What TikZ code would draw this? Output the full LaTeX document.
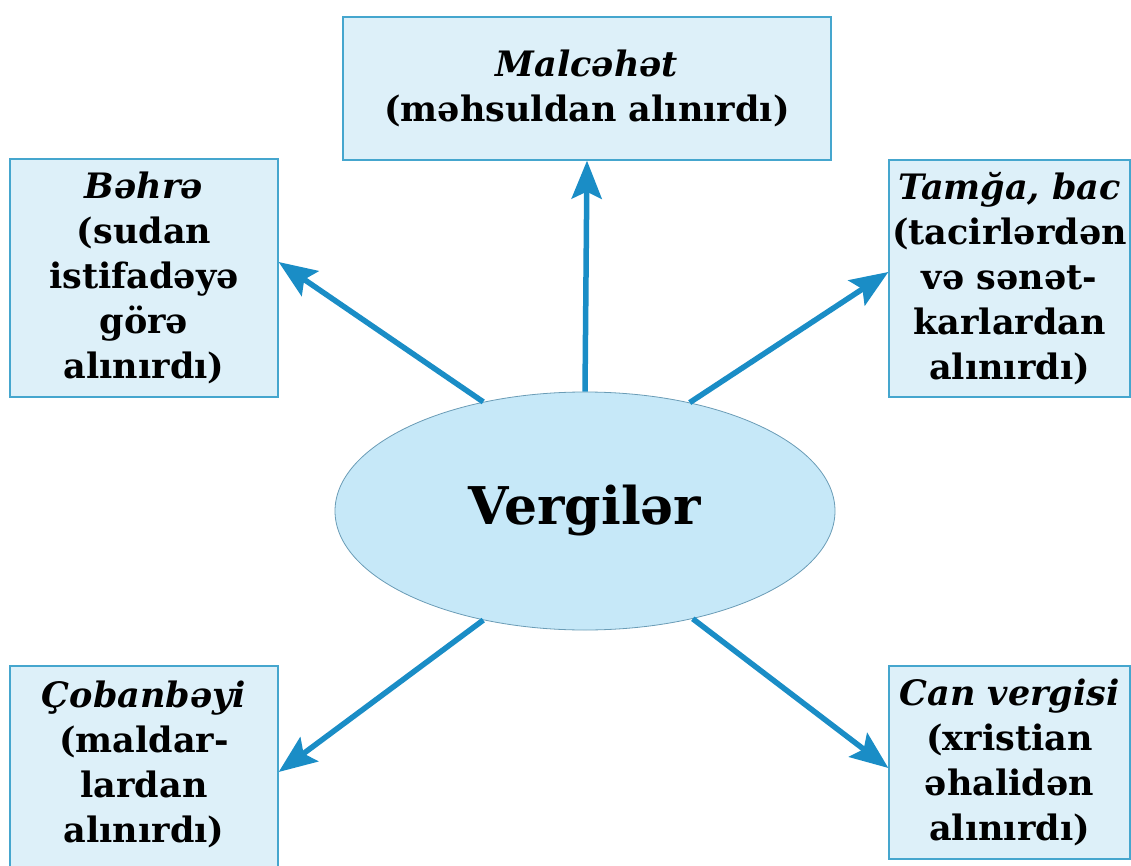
\documentclass[tikz,border=0pt]{standalone}
\usepackage{fontspec}
\setmainfont{DejaVu Serif}
\usetikzlibrary{arrows.meta,shapes.geometric}
\definecolor{boxfill}{HTML}{DDF0F9}
\definecolor{boxline}{HTML}{45A6CE}
\definecolor{ellfill}{HTML}{C6E8F8}
\definecolor{ellline}{HTML}{6A9CB6}
\definecolor{arrowc}{HTML}{1A8DC6}
\tikzset{
  infobox/.style={draw=boxline, line width=1.3pt, fill=boxfill, rectangle, inner sep=0pt,
    align=center, font=\bfseries\fontsize{35}{45}\selectfont},
  conn/.style={draw=arrowc, line width=5.5pt, -{Stealth[length=38pt,width=30pt,inset=7pt]}},
}
\begin{document}
\begin{tikzpicture}[x=1pt,y=-1pt]
\useasboundingbox (0,0) rectangle (1131,866);
\node[infobox, minimum width=488pt, minimum height=143pt] (top) at (587,88.5)
  {\textit{Malcəhət}\\(məhsuldan alınırdı)};
\node[infobox, minimum width=268pt, minimum height=238pt] (ul) at (144,278)
  {\textit{Bəhrə}\\(sudan\\istifadəyə\\görə\\alınırdı)};
\node[infobox, minimum width=241pt, minimum height=237pt] (ur) at (1009.5,278.5)
  {\textit{Tamğa, bac}\\(tacirlərdən\\və sənət-\\karlardan\\alınırdı)};
\node[infobox, minimum width=268pt, minimum height=210pt] (ll) at (144,771)
  {\textit{Çobanbəyi}\\(maldar-\\lardan\\alınırdı)\\[-26pt]};
\node[infobox, minimum width=241pt, minimum height=193pt] (lr) at (1009.5,762.5)
  {\textit{Can vergisi}\\(xristian\\əhalidən\\alınırdı)};
\node[ellipse, draw=ellline, line width=0.8pt, fill=ellfill, minimum width=500pt, minimum height=238pt,
  inner sep=0pt, font=\bfseries\fontsize{52}{60}\selectfont] (c) at (585,511) {Vergilər};
\draw[conn] (c.90) -- (top.south);
\draw[conn] (c.133) -- (ul.east |- 0,262);
\draw[conn] (c.46) -- (ur.west |- 0,272);
\draw[conn] (c.227) -- (ll.east |- 0,772);
\draw[conn] (c.315) -- (lr.west |- 0,768);
\end{tikzpicture}
\end{document}
